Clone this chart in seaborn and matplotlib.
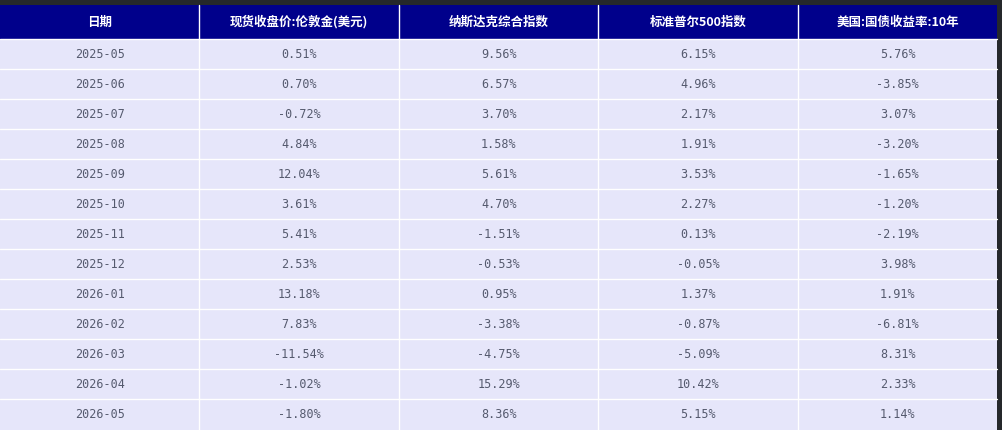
import matplotlib
matplotlib.use("Agg")
import matplotlib.pyplot as plt
import seaborn as sns
from matplotlib.patches import Rectangle

sns.set_theme(style="white")
plt.rcParams['font.family'] = ['Noto Sans CJK SC', 'DejaVu Sans']

columns = ["日期", "现货收盘价:伦敦金(美元)", "纳斯达克综合指数", "标准普尔500指数", "美国:国债收益率:10年"]
dates = ["2025-05","2025-06","2025-07","2025-08","2025-09","2025-10","2025-11","2025-12","2026-01","2026-02","2026-03","2026-04","2026-05"]
gold = ["0.51%","0.70%","-0.72%","4.84%","12.04%","3.61%","5.41%","2.53%","13.18%","7.83%","-11.54%","-1.02%","-1.80%"]
nasdaq = ["9.56%","6.57%","3.70%","1.58%","5.61%","4.70%","-1.51%","-0.53%","0.95%","-3.38%","-4.75%","15.29%","8.36%"]
sp500 = ["6.15%","4.96%","2.17%","1.91%","3.53%","2.27%","0.13%","-0.05%","1.37%","-0.87%","-5.09%","10.42%","5.15%"]
ust10 = ["5.76%","-3.85%","3.07%","-3.20%","-1.65%","-1.20%","-2.19%","3.98%","1.91%","-6.81%","8.31%","2.33%","1.14%"]

W, H = 1002, 430
fig = plt.figure(figsize=(W/100, H/100), dpi=100)
fig.patch.set_facecolor("#25282b")
ax = fig.add_axes([0, 0, 1, 1])
ax.set_xlim(0, W); ax.set_ylim(H, 0); ax.axis("off")

top, head_h, row_h, col_w, tw = 5, 34, 30, 199.5, 997
rows = list(zip(dates, gold, nasdaq, sp500, ust10))
ax.add_patch(Rectangle((0, top), tw, H, facecolor="#e6e6fa", edgecolor="none"))
ax.add_patch(Rectangle((0, top), tw, head_h, facecolor="#00008b", edgecolor="none"))
for j, c in enumerate(columns):
    ax.text(col_w*j + col_w/2, top + head_h/2, c, color="white", ha="center", va="center",
            fontsize=9, fontweight="bold")
    if j > 0:
        ax.plot([col_w*j]*2, [top, H], color="white", lw=1)
for i, r in enumerate(rows):
    y0 = top + head_h + row_h*i
    ax.plot([0, tw], [y0, y0], color="white", lw=1)
    for j, v in enumerate(r):
        ax.text(col_w*j + col_w/2, y0 + row_h/2, v, color="#555a6e", ha="center", va="center",
                fontsize=8.5, family=["DejaVu Sans Mono"])
fig.savefig("out.png", dpi=100, facecolor=fig.get_facecolor())
